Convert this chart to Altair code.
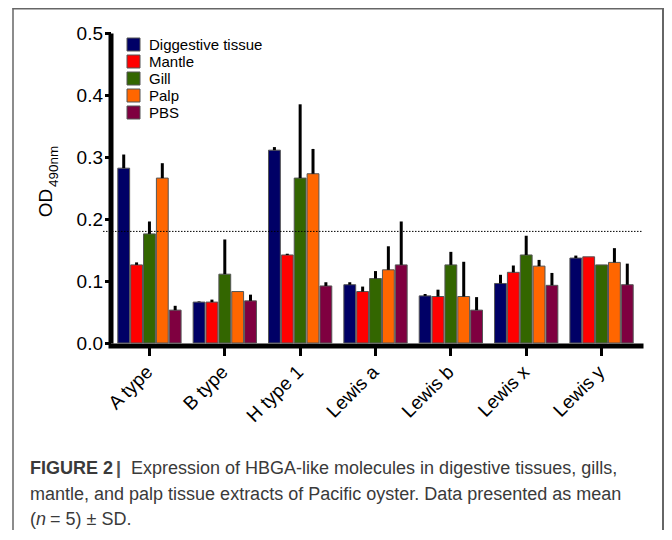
import altair as alt
import pandas as pd

categories = ["A type", "B type", "H type 1", "Lewis a", "Lewis b", "Lewis x", "Lewis y"]
tissues = ["Diggestive tissue", "Mantle", "Gill", "Palp", "PBS"]
colors = ["#000066", "#ff0000", "#336600", "#ff6600", "#7f0040"]

digestive = [0.282, 0.066, 0.311, 0.094, 0.076, 0.096, 0.137]
mantle = [0.126, 0.066, 0.142, 0.083, 0.075, 0.114, 0.139]
gill = [0.176, 0.111, 0.266, 0.104, 0.126, 0.142, 0.126]
palp = [0.266, 0.083, 0.273, 0.118, 0.075, 0.124, 0.130]
pbs = [0.053, 0.068, 0.092, 0.126, 0.053, 0.093, 0.094]

digestive_sd = [0.022, 0.001, 0.005, 0.004, 0.003, 0.014, 0.004]
mantle_sd = [0.004, 0.004, 0.002, 0.008, 0.011, 0.011, 0.0]
gill_sd = [0.020, 0.056, 0.119, 0.012, 0.021, 0.031, 0.0]
palp_sd = [0.024, 0.0, 0.040, 0.038, 0.056, 0.010, 0.023]
pbs_sd = [0.007, 0.010, 0.006, 0.070, 0.021, 0.020, 0.034]

threshold = [0.18]
y_ticks = [0.0, 0.1, 0.2, 0.3, 0.4, 0.5]

caption_bold = "FIGURE 2"
caption_bar = "|"
caption_line1 = "Expression of HBGA-like molecules in digestive tissues, gills,"
caption_line2 = "mantle, and palp tissue extracts of Pacific oyster. Data presented as mean"
caption_line3a = "("
caption_line3b = "n"
caption_line3c = "= 5) ± SD."
y_title_main = "OD"
y_title_sub = "490nm"

means = [digestive, mantle, gill, palp, pbs]
sds = [digestive_sd, mantle_sd, gill_sd, palp_sd, pbs_sd]
rows = []
for t, m_list, s_list in zip(tissues, means, sds):
    for c, m, s in zip(categories, m_list, s_list):
        rows.append({"category": c, "tissue": t, "mean": m, "top": m + s})
df = pd.DataFrame(rows)

FONT = "Liberation Sans"
W, H = 535, 310
PL, PT, PR, PB = 100, 25, 21, 187   # total 656 x 522

x_enc = alt.X("category:N", sort=categories, title=None,
              scale=alt.Scale(paddingInner=0.16, paddingOuter=0.13),
              axis=alt.Axis(labelAngle=-45, labelAlign="right", labelBaseline="middle",
                            labelFontSize=19, labelPadding=13, tickSize=10, tickWidth=3,
                            domainWidth=5, offset=2.5, labelFont=FONT, labelColor="black"))
xo_enc = alt.XOffset("tissue:N", sort=tissues, scale=alt.Scale(paddingInner=0.08))
y_enc = alt.Y("mean:Q", title=None,
              scale=alt.Scale(domain=[0, 0.5], nice=False, zero=True),
              axis=alt.Axis(values=y_ticks, format=".1f", labelFontSize=19, labelFont=FONT,
                            labelColor="black", tickSize=6, tickWidth=3, domainWidth=5,
                            offset=-2.5, labelPadding=2))

bars = alt.Chart(df).mark_bar(stroke="#555555", strokeWidth=1).encode(
    x=x_enc, xOffset=xo_enc, y=y_enc,
    color=alt.Color("tissue:N", sort=tissues,
                    scale=alt.Scale(domain=tissues, range=colors),
                    legend=alt.Legend(title=None, orient="none", legendX=18, legendY=4,
                                      symbolType="square", symbolSize=169,
                                      symbolStrokeColor="#555555", symbolStrokeWidth=1,
                                      symbolOpacity=1,
                                      labelFontSize=15, labelFont=FONT, labelColor="black",
                                      labelOffset=8, rowPadding=0, padding=0)),
)

errs = alt.Chart(df).mark_rule(color="black", strokeWidth=3).encode(
    x=alt.X("category:N", sort=categories), xOffset=alt.XOffset("tissue:N", sort=tissues),
    y="mean:Q", y2="top:Q",
)

thr = alt.Chart(pd.DataFrame({"v": threshold})).mark_rule(
    color="black", strokeWidth=1, strokeDash=[1.5, 1.5]).encode(
    y="v:Q", x=alt.value(-5), x2=alt.value(W))

one = pd.DataFrame({"a": [0]})

def txt(s, x, y, size=18, weight="normal", style="normal", color="#3a3a3a",
        angle=0, align="left", font=FONT):
    return alt.Chart(one).mark_text(
        x=x, y=y, align=align, baseline="alphabetic", fontSize=size,
        fontWeight=weight, fontStyle=style, color=color, font=font, angle=angle
    ).encode(text=alt.value(s))

captions = [
    txt(caption_bold, -78, 441, weight="bold"),
    txt(caption_bar, 8, 441, weight="bold", color="#555555"),
    txt(caption_line1, 23, 441),
    txt(caption_line2, -78, 466.5),
    txt(caption_line3a, -78, 492),
    txt(caption_line3b, -72, 492, style="italic"),
    txt(caption_line3c, -58, 492),
]

ytitle = [
    txt(y_title_main, -56, 170, size=19, color="black", angle=270, align="center"),
    txt(y_title_sub, -50.5, 154, size=13.5, color="black", angle=270, align="left"),
]

FC = "#666666"
frame_left = alt.Chart(one).mark_rule(color=FC, strokeWidth=1.5).encode(
    x=alt.value(-95), y=alt.value(-PT), y2=alt.value(H + PB))
frame_top = alt.Chart(one).mark_rule(color=FC, strokeWidth=1.5).encode(
    x=alt.value(-95.5), x2=alt.value(W + PR), y=alt.value(-PT + 0.75))
frame_right = alt.Chart(one).mark_rule(color=FC, strokeWidth=2).encode(
    x=alt.value(W + PR - 1), y=alt.value(-PT), y2=alt.value(H + PB))

chart = alt.layer(bars, errs, thr, *ytitle, *captions, frame_left, frame_top, frame_right).properties(
    width=W, height=H,
    autosize=alt.AutoSizeParams(type="none"),
    padding={"left": PL, "top": PT, "right": PR, "bottom": PB},
).configure_view(stroke=None).configure_axis(
    grid=False, domainColor="black", tickColor="black"
)

chart.save("out.html", embed_options={"renderer": "svg", "actions": False})
